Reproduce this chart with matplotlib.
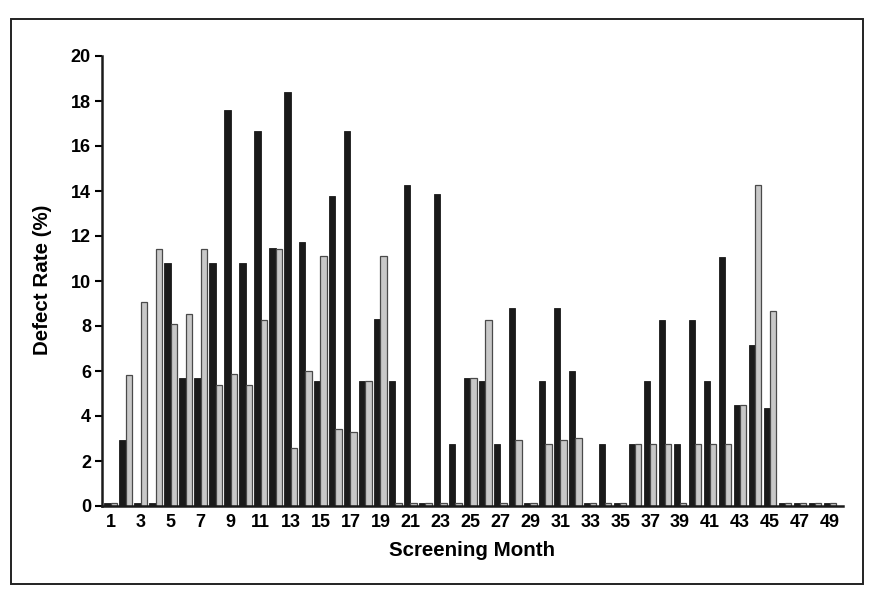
import matplotlib
matplotlib.use("Agg")
import matplotlib.pyplot as plt
from matplotlib.patches import Rectangle
import numpy as np

plt.rcParams['font.family'] = ['Liberation Sans', 'DejaVu Sans']

months = list(range(1, 50))
black_vals = [0, 2.95, 0, 0, 10.8, 5.7, 5.7, 10.8, 17.6, 10.8,
              16.65, 11.45, 18.4, 11.75, 5.56, 13.8, 16.67, 5.56, 8.3, 5.56,
              14.27, 0, 13.87, 2.74, 5.7, 5.56, 2.74, 8.8, 0, 5.56,
              8.8, 6.0, 0, 2.74, 0, 2.74, 5.56, 8.27, 2.74, 8.27,
              5.56, 11.07, 4.5, 7.14, 4.34, 0, 0, 0, 0]
gray_vals = [0, 5.84, 9.05, 11.44, 8.07, 8.53, 11.44, 5.38, 5.87, 5.38,
             8.25, 11.44, 2.59, 6.01, 11.11, 3.44, 3.3, 5.56, 11.11, 0,
             0, 0, 0, 0, 5.7, 8.27, 0, 2.95, 0, 2.74,
             2.92, 3.02, 0, 0, 0, 2.74, 2.74, 2.74, 0, 2.74,
             2.74, 2.74, 4.5, 14.27, 8.65, 0, 0, 0, 0]
xtick_labels = [str(m) for m in range(1, 50, 2)]
yticks = list(range(0, 21, 2))

fig = plt.figure(figsize=(8.79, 6.0), dpi=100)
W, H = 879, 600
ax = fig.add_axes([102 / W, 1 - 506 / H, (843 - 102) / W, (506 - 56) / H])

x = np.array(months, dtype=float)
bw = 0.42
stub = 0.12
bv = np.maximum(np.array(black_vals), stub)
gv = np.maximum(np.array(gray_vals), stub)
ax.bar(x - bw / 2, bv, width=bw, color='#1a1a1a', edgecolor='#1a1a1a', linewidth=0.6, zorder=2)
ax.bar(x + bw / 2, gv, width=bw, color='#c8c8c8', edgecolor='#4a4a4a', linewidth=0.9, zorder=2)

ax.set_xlim(0.42, 49.87)
ax.set_ylim(0, 20)
ax.set_yticks(yticks)
ax.set_yticklabels([str(v) for v in yticks], fontsize=13, fontweight='bold')
ax.set_xticks(list(range(1, 50, 2)))
ax.set_xticklabels(xtick_labels, fontsize=13, fontweight='bold')
ax.tick_params(axis='x', length=0, pad=6)
ax.tick_params(axis='y', length=5, width=1.5, direction='out', pad=3)
for s in ['top', 'right']:
    ax.spines[s].set_visible(False)
for s in ['left', 'bottom']:
    ax.spines[s].set_linewidth(1.8)
    ax.spines[s].set_color('#1a1a1a')

fig.text(472 / W, 1 - 551 / H, 'Screening Month', ha='center', va='center',
         fontsize=14.8, fontweight='bold')
fig.text(43 / W, 1 - 280 / H, 'Defect Rate (%)', ha='center', va='center',
         rotation=90, fontsize=14.8, fontweight='bold')

border = Rectangle((11 / W, 1 - 584 / H), (863 - 11) / W, (584 - 19) / H,
                   transform=fig.transFigure, fill=False, edgecolor='#222222',
                   linewidth=1.4)
fig.patches.append(border)

fig.savefig('out.png', dpi=100)
